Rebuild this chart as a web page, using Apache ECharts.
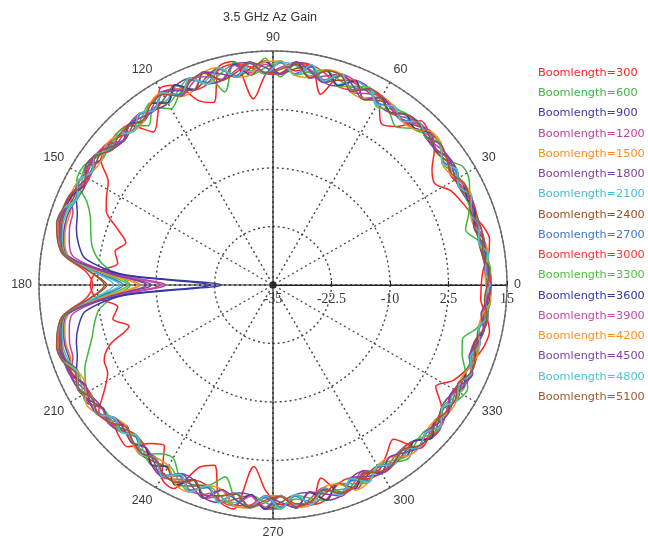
<!DOCTYPE html>
<html><head><meta charset="utf-8">
<script src="https://cdn.jsdelivr.net/npm/echarts@6/dist/echarts.min.js"></script>
<style>html,body{margin:0;padding:0;background:#fff}#c{width:648px;height:539px}</style>
</head><body><div id="c"></div>
<script>
const angles = [0,4,8,12,16,20,24,28,32,36,40,44,48,52,56,60,64,68,72,76,80,84,88,92,96,100,104,108,112,116,120,124,128,132,136,140,144,148,152,156,160,164,168,172,176,180,184,188,192,196,200,204,208,212,216,220,224,228,232,236,240,244,248,252,256,260,264,268,272,276,280,284,288,292,296,300,304,308,312,316,320,324,328,332,336,340,344,348,352,356,360];
const boomLengths = [300,600,900,1200,1500,1800,2100,2400,2700,3000,3300,3600,3900,4200,4500,4800,5100];
const colors = ['#ff2222','#3db83d','#3a3aa8','#c040a0','#ff8c1a','#7a3fa0','#40c0d0','#9a4f1f','#3f78c8','#ff3030','#4fbf3f','#3535a5','#c648a8','#ff9020','#7c45a6','#48c4d4','#a0582a'];
const angleTicks = [0,30,60,90,120,150,180,210,240,270,300,330];
const radiusTicks = [-35,-22.5,-10,2.5,15];

const gain300 = [9.5,10,11.5,12.3,11.5,10,9,8,5.8,7,
10,11.5,12.2,8,6.5,10,11,11.5,12,7,
12.5,11,12.5,10,5,13.5,13,6,7.5,12.5,
13.4,9,6.5,11,11.5,11,10.5,6.5,5.3,4,
0.5,-2.3,-0.5,-1.5,3,4,3,-1.5,0,-3,
2,4.5,5,7.5,11,10,11,11.5,8,6.5,
12.5,13.4,7,5.5,12.5,13.6,4,9,12,12,
12.5,7.5,11.5,11.5,10,10.5,8.5,6.8,12,11.5,
10.5,9.5,6,8.5,10,11,12,12.3,11,9.5,9.5];
const gain600 = [11,11.5,11,10,7.8,9.5,11,12.5,12.8,10.5,
10,11.5,10,7.8,9.5,11,11.5,10.5,11,12,
11,12.5,9.5,13.5,11,13.3,7.5,12.8,12,10.5,
8.5,10.8,8.2,10.7,11.5,10.5,11.5,12.8,12.5,8.5,
6.5,5.5,4.5,2.5,-1,-4.5,-1,2.5,4,5.2,
7,9,10.3,11.2,9.8,10.5,9.5,10,11,8.5,
7.7,10.5,11,10,7.2,11.5,12.5,10,12.5,11,
12,10.5,11,11.5,10.5,10,10.8,12,10.5,10,
11,10,11.5,12.1,10,8,7.1,9.5,11,11.5,11];
const gain900 = [11.2,10.8,11.3,10.2,10.6,10.0,11.4,10.1,11.3,9.9,
11.8,10.6,11.7,9.8,11.0,9.7,11.4,10.0,12.2,10.1,
12.5,10.2,12.8,10.3,12.9,10.2,12.7,10.4,12.4,10.3,
12.2,10.2,11.4,9.6,10.9,10.1,11.9,11.5,12.0,11.0,
9.5,8.7,7.5,5.5,-3,-24,-3,5.5,7.5,8.7,
9.5,11.0,12.0,11.6,11.5,9.4,9.9,8.6,10.8,9.8,
12.0,10.3,12.3,10.4,12.7,10.2,12.9,10.3,12.8,10.2,
12.5,10.1,12.0,10.0,11.3,9.8,11.2,9.8,11.6,10.5,
11.8,9.9,11.3,9.8,11.5,10.0,11.0,10.0,11.4,10.6,11.2];
const gain1200 = [11.6,11,10.2,11.1,10.3,9.9,11.4,10.5,9.6,11.4,
11,10.3,11.7,10.5,9.4,11.4,10.5,9.4,12.4,11,
9.9,12.9,11.5,10.1,12.9,11.5,10.1,12.9,11.3,9.8,
12.6,11,9.6,11.1,10.2,9.9,12.1,11.5,10.4,12.4,
10.5,10.2,9.5,8,-1,-12,-1,8,9.5,10.2,10.5,
12.4,11.3,10.4,11.7,10,8.4,10.2,10,9.6,
12.4,11.2,9.9,12.9,11.5,10.1,12.9,11.5,10.1,12.9,
11.3,9.6,12.4,10.8,9.1,11.4,10.3,9.6,11.7,11.2,
10.1,11.4,10.5,9.9,11.4,10.5,9.7,11.1,10.8,10.4,11.6];
const gain1500 = [10.6,11.5,10.3,11.0,9.8,11.0,10.3,11.1,9.7,11.3,
10.2,12.0,10.0,11.3,9.5,11.3,9.2,12.1,9.7,12.4,
10.0,12.8,10.1,12.9,10.2,12.8,10.0,12.9,10.0,12.5,
9.9,11.9,9.7,11.0,9.4,11.6,10.4,12.3,10.6,12.1,
11.0,11.0,10.5,9.0,1.0,-6.6,1.0,9.0,10.5,11.0,11.0,
12.2,10.5,12.0,10.0,10.8,8.5,10.1,9.2,11.3,
10.0,12.5,10.0,12.8,10.2,12.9,10.1,12.8,10.1,12.8,
10.0,12.3,9.7,11.8,9.5,11.3,9.5,11.3,10.0,12.0,
10.2,11.2,9.7,11.1,10.2,11.1,9.7,11.1,10.2,11.5,10.6];
const gain1800 = [11.5,11.4,10.2,10.0,10.8,11.0,10.2,10.0,11.3,11.4,
10.2,10.4,11.6,11.3,9.5,9.7,11.8,12.1,9.7,9.7,
12.6,12.8,10.2,10.1,12.8,12.9,10.1,10.2,12.6,12.4,
9.9,10.1,11.4,11.0,9.4,10.0,12.0,12.3,10.5,10.7,
11.3,11.3,10.8,9.3,0.0,-9.0,0.0,9.3,10.8,11.3,11.3,
12.3,12.1,10.4,10.0,10.9,10.2,8.5,9.2,11.4,
12.3,9.9,10.0,12.8,12.9,10.1,10.2,12.9,12.8,10.1,
10.0,12.4,12.3,9.5,9.2,11.4,11.2,9.6,9.9,12.1,
11.9,9.6,9.6,11.1,11.4,9.9,9.7,11.1,11.4,10.4,11.5];
const gain2100 = [10.9,11.3,11.2,10.1,10.0,10.9,11.2,10.0,10.9,10.0,
11.5,11.8,10.1,10.9,11.0,9.7,11.4,12.0,10.0,12.2,
10.4,12.1,12.6,10.2,11.9,10.1,12.8,11.0,10.2,12.3,
10.5,11.8,10.0,9.5,10.9,11.4,10.3,12.0,11.9,10.8,
11.6,11.7,11.0,9.6,3.0,-2.3,3.0,9.6,11.0,11.7,11.6,
10.9,12.0,10.6,11.4,9.3,9.9,8.8,10.7,10.0,
11.8,10.4,12.5,10.5,12.4,12.2,10.1,12.8,10.3,12.2,
11.9,10.0,11.7,10.2,11.4,9.8,11.0,10.9,10.0,11.8,
10.4,11.3,10.0,11.0,10.3,11.1,9.9,10.9,11.3,10.4,10.9];
const gain2400 = [11.0,10.4,11.4,10.5,9.7,11.1,10.8,9.9,11.4,10.5,
10.1,12.1,10.8,9.6,11.2,10.5,9.1,12.2,11.0,9.6,
12.7,11.5,10.1,12.9,11.5,10.1,12.9,11.5,9.9,12.6,
11.2,10.1,11.4,10.2,9.3,11.7,11.2,10.6,12.2,11.5,
12.0,12.0,11.3,9.8,4.0,0.5,4.0,9.8,11.3,12.0,12.0,
10.6,12.2,11.3,9.9,10.9,9.3,8.4,10.9,10.5,
10.1,12.6,11.3,10.1,12.9,11.5,10.1,12.9,11.5,10.1,
12.7,11.0,9.6,12.2,10.5,9.6,11.2,10.5,9.9,12.1,
11.0,9.6,11.4,10.5,10.2,11.1,10.3,9.9,11.4,11.0,11.0];
const gain2700 = [11.3,10.7,11.2,10.1,10.7,10.1,11.2,10.1,11.1,9.9,
11.6,10.6,11.5,9.9,10.9,9.9,11.4,10.0,12.1,10.1,
12.3,10.4,12.6,10.5,12.6,10.4,12.5,10.5,12.3,10.2,
12.1,10.4,11.2,9.5,10.8,10.2,11.8,10.9,12.0,11.0,
12.1,12.2,11.5,10.0,2.5,-3.0,2.5,10.0,11.5,12.2,12.1,
11.0,12.0,10.7,11.4,9.4,9.9,8.7,10.6,9.9,
12.0,10.3,12.3,10.5,12.6,10.4,12.6,10.5,12.5,10.4,
12.3,10.1,12.0,9.9,11.5,9.9,11.1,9.9,11.5,10.6,
11.6,9.9,11.1,9.9,11.3,10.0,10.9,10.0,11.3,10.5,11.3];
const gain3000 = [11.6,11.5,10.5,9.9,10.4,11.1,11.3,10.2,9.7,10.9,
11.8,11.7,10.1,9.6,10.7,11.6,11.7,10.0,9.7,11.5,
12.7,12.6,10.3,10.1,11.9,12.9,12.5,10.2,10.0,11.6,
12.6,11.8,9.7,9.4,10.6,11.6,11.9,10.6,10.5,11.9,
12.3,12.4,11.6,10.0,5.0,3.5,5.0,10.0,11.6,12.4,12.3,
11.8,10.6,10.4,11.4,10.8,9.8,8.6,9.2,11.3,
11.9,11.7,10.0,10.2,12.4,12.9,12.3,10.1,10.1,12.0,
12.6,12.2,9.8,9.5,11.0,11.4,11.1,9.7,9.9,11.9,
11.8,10.9,9.6,10.0,11.3,11.2,10.6,9.9,10.6,11.5,11.6];
const gain3300 = [10.4,11.6,10.8,9.9,10.9,10.5,10.2,11.1,10.5,9.6,
11.9,11.2,9.9,11.4,10.3,9.1,11.9,10.8,9.6,12.4,
11.3,10.1,12.9,11.5,10.1,12.9,11.5,10.1,12.7,11.2,
9.8,11.9,10.5,9.3,11.1,10.8,10.3,12.4,11.3,10.6,
12.4,12.5,11.7,10.0,1.5,-4.0,1.5,10.0,11.7,12.5,12.4,
10.6,11.3,12.2,9.9,10.0,10.2,8.4,10.0,11.4,
9.6,11.2,12.7,10.1,11.5,12.9,10.1,11.5,12.9,10.1,
11.3,12.4,9.6,10.8,11.9,9.6,10.3,11.4,9.9,11.2,
11.9,9.6,10.5,11.4,10.2,10.5,10.9,9.9,10.8,11.6,10.4];
const gain3600 = [10.7,11.3,10.4,11.0,9.9,10.9,10.4,11.0,9.8,11.2,
10.3,11.9,10.1,11.2,9.6,11.2,9.3,12.0,9.8,12.3,
9.9,12.9,10.0,12.8,10.1,12.9,10.1,12.8,9.9,12.6,
10.0,11.8,9.6,11.1,9.5,11.5,10.5,12.2,10.7,12.0,
12.4,12.6,11.8,10.0,-2.0,-21.5,-2.0,10.0,11.8,12.6,12.4,
12.1,10.6,12.1,9.9,10.9,8.4,10.2,9.1,11.4,
9.9,12.6,9.9,12.9,10.1,12.8,10.0,12.9,10.0,12.9,
9.9,12.4,9.6,11.9,9.4,11.4,9.4,11.4,9.9,12.1,
10.1,11.3,9.6,11.2,10.1,11.0,9.8,11.0,10.3,11.4,10.7];
const gain3900 = [11.2,10.6,10.3,11.1,10.9,9.9,11.3,11.0,9.8,11.1,
10.4,12.0,11.2,9.7,10.8,11.3,9.4,11.9,12.3,9.8,
11.6,12.8,10.0,12.2,10.6,12.7,10.3,11.8,12.5,9.9,
12.3,10.2,11.3,10.9,9.4,11.6,10.4,12.1,10.9,12.3,
12.5,12.7,11.8,10.0,-0.5,-11.0,-0.5,10.0,11.8,12.7,12.5,
12.2,10.8,12.0,10.1,10.9,8.6,9.9,10.8,9.7,
12.2,10.3,12.4,12.0,10.2,12.8,10.4,12.5,10.0,12.7,
12.1,9.8,12.0,11.5,9.4,11.1,10.9,9.7,11.6,10.5,
11.9,10.8,9.7,11.0,11.2,9.9,10.6,11.0,10.2,10.6,11.2];
const gain4200 = [10.5,10.4,11.4,11.1,9.8,9.9,11.4,11.2,9.7,9.6,
11.9,12.1,9.9,9.6,11.1,11.4,9.3,9.5,12.3,12.4,
10.0,10.1,12.9,12.8,10.2,10.1,12.9,12.8,10.0,9.8,
12.5,11.9,9.7,9.4,11.1,11.6,10.3,10.6,12.2,12.4,
12.6,12.8,11.9,10.0,1.0,-6.0,1.0,10.0,11.9,12.8,12.6,
10.6,10.4,12.2,11.6,9.2,8.5,10.2,10.9,9.6,
9.7,12.5,12.7,10.1,10.1,12.9,12.9,10.1,10.1,12.8,
12.6,9.6,9.7,12.2,11.8,9.6,9.5,11.4,11.7,10.3,
10.1,11.4,11.3,9.9,10.2,11.1,10.9,9.9,10.2,11.6,10.5];
const gain4500 = [11.6,10.4,10.8,11.1,9.7,10.5,11.4,9.9,10.5,11.4,
10.1,11.2,11.7,9.6,10.3,11.4,9.1,10.8,12.4,9.6,
11.3,12.9,10.1,11.5,12.9,10.1,11.5,12.9,9.9,11.2,
12.6,10.1,10.5,11.1,9.3,10.8,12.1,10.6,11.3,12.4,
12.6,12.9,12.0,10.0,0.0,-8.0,0.0,10.0,12.0,12.9,12.6,
12.4,10.4,11.3,11.7,9.1,9.3,10.2,9.1,10.5,
12.4,9.8,11.3,12.9,10.1,11.5,12.9,10.1,11.5,12.9,
9.9,11.0,12.4,9.4,10.5,11.4,9.4,10.5,11.7,10.3,
11.0,11.4,9.6,10.5,11.7,9.6,10.3,11.1,9.9,11.0,11.6];
const gain4800 = [11.4,10.5,11.5,9.9,10.9,9.8,11.5,9.9,11.4,9.6,
11.9,10.3,11.8,9.5,11.2,9.4,12.0,9.6,12.5,9.9,
12.8,10.0,12.9,10.0,12.8,10.1,12.9,10.1,12.7,9.9,
12.5,10.1,11.5,9.3,11.0,9.9,12.1,10.6,12.3,10.8,
12.7,13.0,12.0,10.0,3.0,-1.0,3.0,10.0,12.0,13.0,12.7,
10.8,12.3,10.5,11.7,9.2,10.2,8.4,10.9,9.7,
12.3,10.0,12.7,10.1,12.9,10.0,12.9,10.1,12.8,10.0,
12.6,9.8,12.3,9.6,11.8,9.6,11.3,9.6,11.7,10.4,
11.8,9.7,11.4,9.9,11.4,9.9,11.0,9.9,11.4,10.4,11.4];
const gain5100 = [10.8,11.4,10.2,10.8,11.1,10.0,10.9,11.3,10.0,10.9,
11.8,10.5,11.4,11.2,9.5,11.2,11.8,9.6,12.1,12.2,
10.0,12.4,11.1,10.3,12.7,11.0,10.1,12.6,12.0,9.9,
12.0,11.6,9.9,10.8,10.9,9.9,12.0,11.9,10.7,12.5,
12.8,13.1,12.1,10.0,4.0,1.0,4.0,10.0,12.1,13.1,12.8,
11.2,12.3,10.6,11.5,10.6,8.7,9.8,10.6,9.9,
11.7,12.0,10.0,12.3,11.4,10.3,12.8,11.0,10.2,12.6,
11.9,10.0,11.8,11.4,9.7,11.0,11.1,9.7,11.3,11.7,
10.4,10.9,11.0,9.8,11.2,10.9,9.8,10.9,11.2,10.3,10.8];

const gainSets = [gain300,gain600,gain900,gain1200,gain1500,gain1800,gain2100,gain2400,gain2700,gain3000,gain3300,gain3600,gain3900,gain4200,gain4500,gain4800,gain5100];
const names = boomLengths.map(b => 'Boomlength=' + b);

const chart = echarts.init(document.getElementById('c'));
const CX = 273, CY = 285, R = 234;

const lineSeries = gainSets.map((vals, i) => ({
  name: names[i],
  type: 'line',
  coordinateSystem: 'polar',
  polarIndex: 0,
  showSymbol: false,
  symbol: 'none',
  smooth: 0.3,
  lineStyle: { width: 1.5, color: colors[i] },
  itemStyle: { color: colors[i] },
  data: angles.map((a, k) => [vals[k], a]),
  z: 3,
  animation: false
}));

lineSeries.push({
  name: 'center',
  type: 'scatter',
  coordinateSystem: 'polar',
  polarIndex: 0,
  symbol: 'rect',
  symbolSize: 6,
  itemStyle: { color: '#222' },
  data: [[radiusTicks[0], 0]],
  z: 10,
  silent: true
});

chart.setOption({
  animation: false,
  backgroundColor: '#fff',
  graphic: [{
    type: 'text', x: 270, y: 18,
    style: { text: '3.5 GHz Az Gain', fill: '#333', font: '12.5px "Liberation Sans"', textAlign: 'center', textVerticalAlign: 'middle' }
  }],
  legend: {
    orient: 'vertical', left: 528, top: 61,
    icon: 'none', itemWidth: 0, itemHeight: 14, itemGap: 7.75,
    selectedMode: false,
    textStyle: { fontSize: 11.3, fontFamily: 'DejaVu Sans' },
    data: names.map((n, i) => ({ name: n, textStyle: { color: colors[i] } }))
  },
  polar: [
    { center: [CX, CY], radius: R },
    { center: [CX, CY], radius: R }
  ],
  angleAxis: [
    {
      polarIndex: 0, type: 'value', min: 0, max: 360, interval: 30,
      startAngle: 0, clockwise: false,
      axisLine: { show: true, lineStyle: { color: '#6a6a6a', width: 1.4 } },
      axisTick: { show: false },
      axisLabel: { margin: 7, color: '#3a3a3a', fontSize: 12.5, fontFamily: 'Liberation Sans',
        formatter: v => (v === 360 ? '' : String(v)) },
      splitLine: { show: true, lineStyle: { color: '#444', width: 1.4, type: [2, 3] } }
    },
    {
      polarIndex: 1, type: 'value', min: 0, max: 360, interval: 90,
      startAngle: 0, clockwise: false,
      axisLine: { show: false }, axisTick: { show: false }, axisLabel: { show: false },
      splitLine: { show: true, lineStyle: { color: '#222', width: 1.2, type: 'solid' } }
    }
  ],
  radiusAxis: [
    {
      polarIndex: 0, type: 'value', min: -35, max: 15, interval: 12.5,
      axisLine: { show: true, lineStyle: { color: '#222', width: 1.2 } },
      axisTick: { show: true, length: 4, lineStyle: { color: '#222' } },
      axisLabel: { show: true, color: '#3a3a3a', fontSize: 14, fontFamily: 'Liberation Serif', margin: -7, verticalAlign: 'top', align: 'center' },
      splitLine: { show: true, lineStyle: { color: '#444', width: 1.4, type: [2, 3] } }
    },
    {
      polarIndex: 1, type: 'value', min: -35, max: 15,
      axisLine: { show: false }, axisTick: { show: false }, axisLabel: { show: false },
      splitLine: { show: false }
    }
  ],
  series: lineSeries
});
</script>
</body></html>
